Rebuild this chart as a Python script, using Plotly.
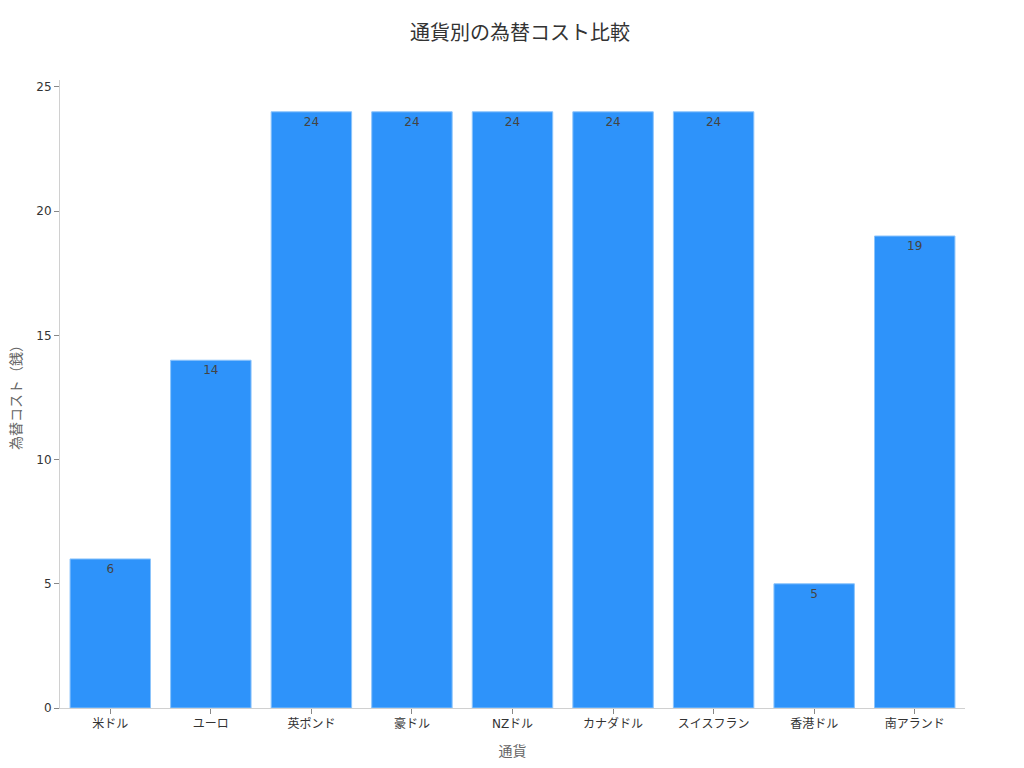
import plotly.graph_objects as go

categories = ["米ドル", "ユーロ", "英ポンド", "豪ドル", "NZドル", "カナダドル", "スイスフラン", "香港ドル", "南アランド"]
costs = [6, 14, 24, 24, 24, 24, 24, 5, 19]

FONT = "DejaVu Sans, Noto Sans CJK JP, sans-serif"

fig = go.Figure(go.Bar(
    x=categories,
    y=costs,
    text=[str(v) for v in costs],
    textposition="inside",
    insidetextanchor="end",
    textfont=dict(color="#444444", size=12, family=FONT),
    marker=dict(color="#2E93FA", line=dict(color="#8cc4fb", width=1)),
    width=0.8,
))

fig.update_layout(
    width=1024, height=768,
    paper_bgcolor="white", plot_bgcolor="white",
    font=dict(family=FONT, color="#444444", size=12),
    title=dict(text="通貨別の為替コスト比較", x=0.5, xanchor="center", y=0.967, yanchor="middle",
               font=dict(size=20, color="#333333", family=FONT)),
    margin=dict(l=52, r=67, t=72, b=68),
    showlegend=False,
    xaxis=dict(
        title=dict(text="通貨", font=dict(size=14, color="#666666"), standoff=15),
        showline=True, linecolor="#d0d0d0", linewidth=1,
        ticks="outside", ticklen=5, tickcolor="#888888",
        tickfont=dict(size=12, color="#333333"),
        showgrid=False,
    ),
    yaxis=dict(
        title=dict(text="為替コスト（銭）", font=dict(size=14, color="#666666"), standoff=14),
        automargin=False,
        range=[0, 25.28],
        tickvals=[0, 5, 10, 15, 20, 25],
        showline=True, linecolor="#d0d0d0", linewidth=1,
        ticks="outside", ticklen=5, tickcolor="#888888",
        tickfont=dict(size=12, color="#333333"),
        showgrid=False, zeroline=False,
    ),
)

fig.write_html("out.html")
